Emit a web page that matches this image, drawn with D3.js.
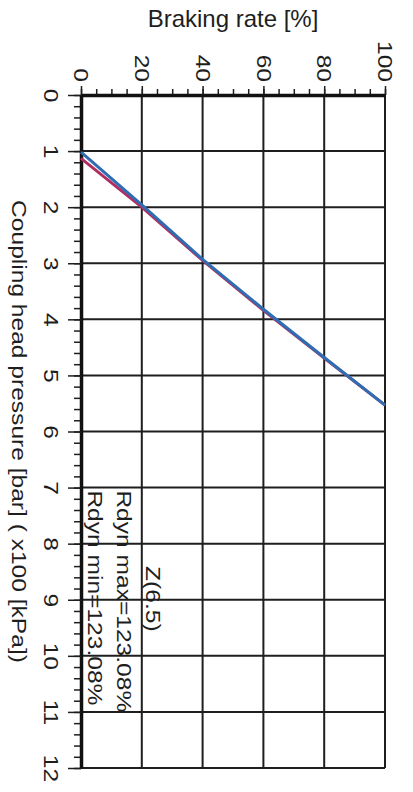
<!DOCTYPE html>
<html>
<head>
<meta charset="utf-8">
<script src="https://cdn.jsdelivr.net/npm/d3@7"></script>
<style>
body{margin:0;background:#fff;}
</style>
</head>
<body>
<svg id="main"></svg>
<script>
//--------data----------
const rateTicks = [0, 20, 40, 60, 80, 100];
const pressureTicks = [0, 1, 2, 3, 4, 5, 6, 7, 8, 9, 10, 11, 12];
const rate = [0, 20, 40, 60, 80, 100];
const pressureBlue = [1.02, 1.96, 2.93, 3.82, 4.68, 5.53];
const pressureRed = [1.13, 2.0, 2.95, 3.84, 4.69, 5.53];
const notes = ['Rdyn min=123.08%', 'Rdyn max=123.08%', 'Z(6.5)'];
const noteStart = [7.05, 7.05, 8.4];

//--------code----------
const width = 413, height = 792;
const stretch = 1.17; // scan is taller than wide, rotated text looks longer
const font = '"Liberation Sans", Arial, sans-serif';
const ink = '#1e1e1e';

const svg = d3.select('#main')
  .attr('width', width)
  .attr('height', height)
  .style('background', '#fff');

const sx = d3.scaleLinear().domain([0, 100]).range([81, 385]);
const sy = d3.scaleLinear().domain([0, 12]).range([95, 768]);

// grid
svg.append('g')
  .selectAll('line')
  .data(rateTicks)
  .join('line')
  .attr('x1', d => sx(d))
  .attr('x2', d => sx(d))
  .attr('y1', sy(0))
  .attr('y2', sy(12))
  .attr('stroke', ink)
  .attr('stroke-width', 2);
svg.append('g')
  .selectAll('line')
  .data(pressureTicks)
  .join('line')
  .attr('x1', sx(0))
  .attr('x2', sx(100))
  .attr('y1', d => sy(d))
  .attr('y2', d => sy(d))
  .attr('stroke', ink)
  .attr('stroke-width', 2);

// minor ticks
svg.append('g')
  .attr('transform', `translate(0,${sy(0)})`)
  .call(d3.axisTop(sx).tickValues(d3.range(0, 101, 5)).tickSize(6).tickSizeOuter(0).tickFormat(''))
  .call(g => g.select('.domain').remove())
  .call(g => g.selectAll('line').attr('stroke', ink).attr('stroke-width', 1.5));
svg.append('g')
  .attr('transform', `translate(${sx(0)},0)`)
  .call(d3.axisLeft(sy).tickValues(d3.range(0, 12.01, 0.2)).tickSize(7).tickSizeOuter(0).tickFormat(''))
  .call(g => g.select('.domain').remove())
  .call(g => g.selectAll('line').attr('stroke', ink).attr('stroke-width', 1.5));

// major axes
let gx = svg.append('g')
  .attr('transform', `translate(0,${sy(0)})`)
  .call(d3.axisTop(sx).tickValues(rateTicks).tickSize(9).tickSizeOuter(0))
  .attr('font-family', font)
  .attr('font-size', 21);
gx.select('.domain').attr('stroke', '#111').attr('stroke-width', 3.5);
gx.selectAll('.tick line').attr('stroke', ink).attr('stroke-width', 1.5);
gx.selectAll('.tick text')
  .attr('x', 0)
  .attr('y', 0)
  .attr('dy', '0.35em')
  .attr('fill', ink)
  .attr('text-anchor', 'end')
  .attr('transform', `translate(0,-13) scale(1,${stretch}) rotate(90)`);

let gy = svg.append('g')
  .attr('transform', `translate(${sx(0)},0)`)
  .call(d3.axisLeft(sy).tickValues(pressureTicks).tickSize(13).tickSizeOuter(0))
  .attr('font-family', font)
  .attr('font-size', 21);
gy.select('.domain').attr('stroke', '#111').attr('stroke-width', 3.5);
gy.selectAll('.tick line').attr('stroke', ink).attr('stroke-width', 1.5);
gy.selectAll('.tick text')
  .attr('x', 0)
  .attr('y', 0)
  .attr('dy', 0)
  .attr('fill', ink)
  .attr('text-anchor', 'middle')
  .attr('transform', `translate(-37,0) scale(1,${stretch}) rotate(90)`);

// curves
let line = d3.line()
  .x((d, i) => sx(rate[i]))
  .y(d => sy(d));
svg.append('path')
  .attr('d', line(pressureRed))
  .attr('fill', 'none')
  .attr('stroke', '#b02f62')
  .attr('stroke-width', 3);
svg.append('path')
  .attr('d', line(pressureBlue))
  .attr('fill', 'none')
  .attr('stroke', '#2f6db3')
  .attr('stroke-width', 3);

// notes
svg.append('g')
  .selectAll('text')
  .data(notes)
  .join('text')
  .attr('transform', (d, i) => `translate(${sx(0) + 7 + i * 29},${sy(noteStart[i])}) scale(1,${stretch}) rotate(90)`)
  .attr('font-family', font)
  .attr('font-size', 21)
  .attr('fill', ink)
  .text(d => d);

// titles
svg.append('text')
  .attr('x', (sx(0) + sx(100)) / 2)
  .attr('y', 27)
  .attr('text-anchor', 'middle')
  .attr('font-family', font)
  .attr('font-size', 24)
  .attr('fill', ink)
  .text('Braking rate [%]');
svg.append('text')
  .attr('transform', `translate(12,${(sy(0) + sy(12)) / 2}) scale(1,${stretch}) rotate(90)`)
  .attr('text-anchor', 'middle')
  .attr('font-family', font)
  .attr('font-size', 21)
  .attr('fill', ink)
  .text('Coupling head pressure [bar] ( x100 [kPa])');
</script>
</body>
</html>
